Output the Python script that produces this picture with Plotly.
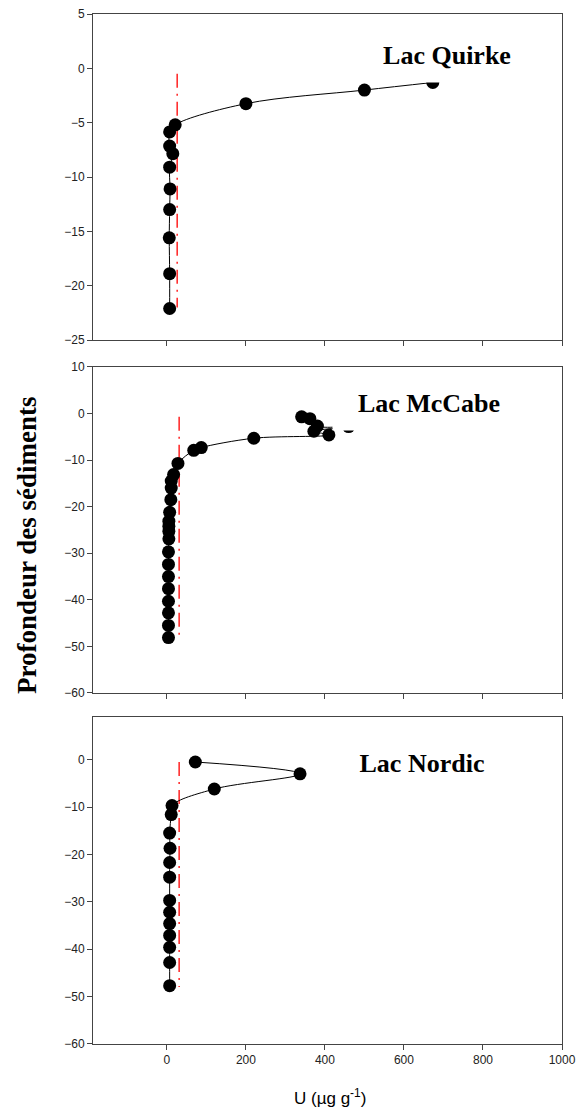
import plotly.graph_objects as go

# ---------------- data ----------------
quirke_u = [673, 500, 200, 21, 7, 7, 15, 7, 8, 7, 6, 7, 7]
quirke_depth = [-1.3, -2.0, -3.25, -5.2, -5.85, -7.15, -7.85, -9.1, -11.1, -13.0, -15.6, -18.9, -22.1]

mccabe_u = [341, 362, 381, 460, 372, 410, 220, 87, 68, 28, 17, 11, 11, 10, 7, 5, 5, 5, 5,
            4, 4, 4, 4, 4, 4, 4, 4]
mccabe_depth = [-0.7, -1.1, -2.7, -2.8, -3.8, -4.6, -5.3, -7.3, -7.9, -10.7, -13.1, -14.5, -16.0,
                -18.5, -21.2, -23.1, -24.2, -25.3, -26.9, -29.7, -32.4, -35.0, -37.6, -40.3,
                -42.8, -45.5, -48.1]

nordic_u = [72, 337, 120, 13, 11, 7, 8, 7, 7, 7, 7, 7, 7, 7, 7, 7]
nordic_depth = [-0.5, -3.0, -6.2, -9.7, -11.6, -15.5, -18.7, -21.7, -24.8, -29.7, -32.2,
                -34.6, -37.1, -39.6, -42.8, -47.7]

# reference (background) level lines
ref_u = [26, 31, 31]
ref_top = [-0.5, -0.7, -0.5]
ref_bottom = [-22.0, -48.0, -48.0]

lake_names = ["Lac Quirke", "Lac McCabe", "Lac Nordic"]
y_ranges = [[-25, 5], [-60, 10], [-60, 9]]
y_ticks = [[5, 0, -5, -10, -15, -20, -25],
           [10, 0, -10, -20, -30, -40, -50, -60],
           [0, -10, -20, -30, -40, -50, -60]]
x_ticks = [0, 200, 400, 600, 800, 1000]
x_range = [-187, 1000]

# ---------------- figure ----------------
fig = go.Figure()

series = [(quirke_u, quirke_depth), (mccabe_u, mccabe_depth), (nordic_u, nordic_depth)]
for i, (u, d) in enumerate(series):
    xa = "x" if i == 0 else f"x{i+1}"
    ya = "y" if i == 0 else f"y{i+1}"
    # red dash-dot reference line
    fig.add_trace(go.Scatter(
        x=[ref_u[i], ref_u[i]], y=[ref_top[i], ref_bottom[i]],
        mode="lines", line=dict(color="#ff0000", width=1.3, dash="14px,6px,2px,6px"),
        xaxis=xa, yaxis=ya, showlegend=False, hoverinfo="skip"))
    fig.add_trace(go.Scatter(
        x=u, y=d, mode="lines+markers",
        line=dict(color="black", width=1, shape="spline", smoothing=1),
        marker=dict(color="black", size=13),
        xaxis=xa, yaxis=ya, showlegend=False))

domains = [[0.6835, 1.0], [0.3408, 0.6573], [0.0, 0.3175]]
axis_font = dict(family="Liberation Sans, Arial, sans-serif", size=12, color="#222")
layout = dict(
    width=576, height=1108, autosize=False,
    margin=dict(l=93, r=14, t=14, b=64),
    paper_bgcolor="white", plot_bgcolor="white",
)
for i in range(3):
    xk = "xaxis" if i == 0 else f"xaxis{i+1}"
    yk = "yaxis" if i == 0 else f"yaxis{i+1}"
    ya_ref = "y" if i == 0 else f"y{i+1}"
    xa_ref = "x" if i == 0 else f"x{i+1}"
    layout[xk] = dict(
        domain=[0, 1], range=x_range, anchor=ya_ref,
        tickvals=x_ticks, ticks="outside", ticklen=5, tickcolor="#444",
        showticklabels=(i == 2), tickfont=axis_font,
        showline=True, linecolor="#444", linewidth=1, mirror=True,
        showgrid=False, zeroline=False, automargin=False)
    layout[yk] = dict(
        domain=domains[i], range=y_ranges[i], anchor=xa_ref,
        tickvals=y_ticks[i], ticks="outside", ticklen=5, tickcolor="#444",
        tickfont=axis_font,
        showline=True, linecolor="#444", linewidth=1, mirror=True,
        showgrid=False, zeroline=False, automargin=False)
fig.update_layout(**layout)

title_pos = [(0.7548, 0.960), (0.7164, 0.6215), (0.7015, 0.2728)]
annotations = []
for name, (px, py) in zip(lake_names, title_pos):
    annotations.append(dict(
        text=f"<b>{name}</b>", x=px, y=py, xref="paper", yref="paper",
        xanchor="center", yanchor="middle", showarrow=False, width=168,
        font=dict(family="Liberation Serif, Times New Roman, serif", size=26, color="black"),
        bgcolor="white", borderpad=12))
annotations.append(dict(
    text="<b>Profondeur des sédiments</b>", x=-0.1407, y=0.4845,
    xref="paper", yref="paper", xanchor="center", yanchor="middle",
    textangle=-90, showarrow=False,
    font=dict(family="Liberation Serif, Times New Roman, serif", size=27, color="black")))
annotations.append(dict(
    text="U (µg g<sup>-1</sup>)", x=0.505, y=-0.0515,
    xref="paper", yref="paper", xanchor="center", yanchor="middle", showarrow=False,
    font=dict(family="Liberation Sans, Arial, sans-serif", size=17, color="black")))
fig.update_layout(annotations=annotations)

fig.write_html("out.html", config={"responsive": False, "displayModeBar": False})

# remove the default page margin so the 576x1108 figure fits the window exactly
with open("out.html", "r", encoding="utf-8") as f:
    html = f.read()
html = html.replace("<head>", "<head><style>html,body{margin:0;padding:0;overflow:hidden;}</style>", 1)
with open("out.html", "w", encoding="utf-8") as f:
    f.write(html)
